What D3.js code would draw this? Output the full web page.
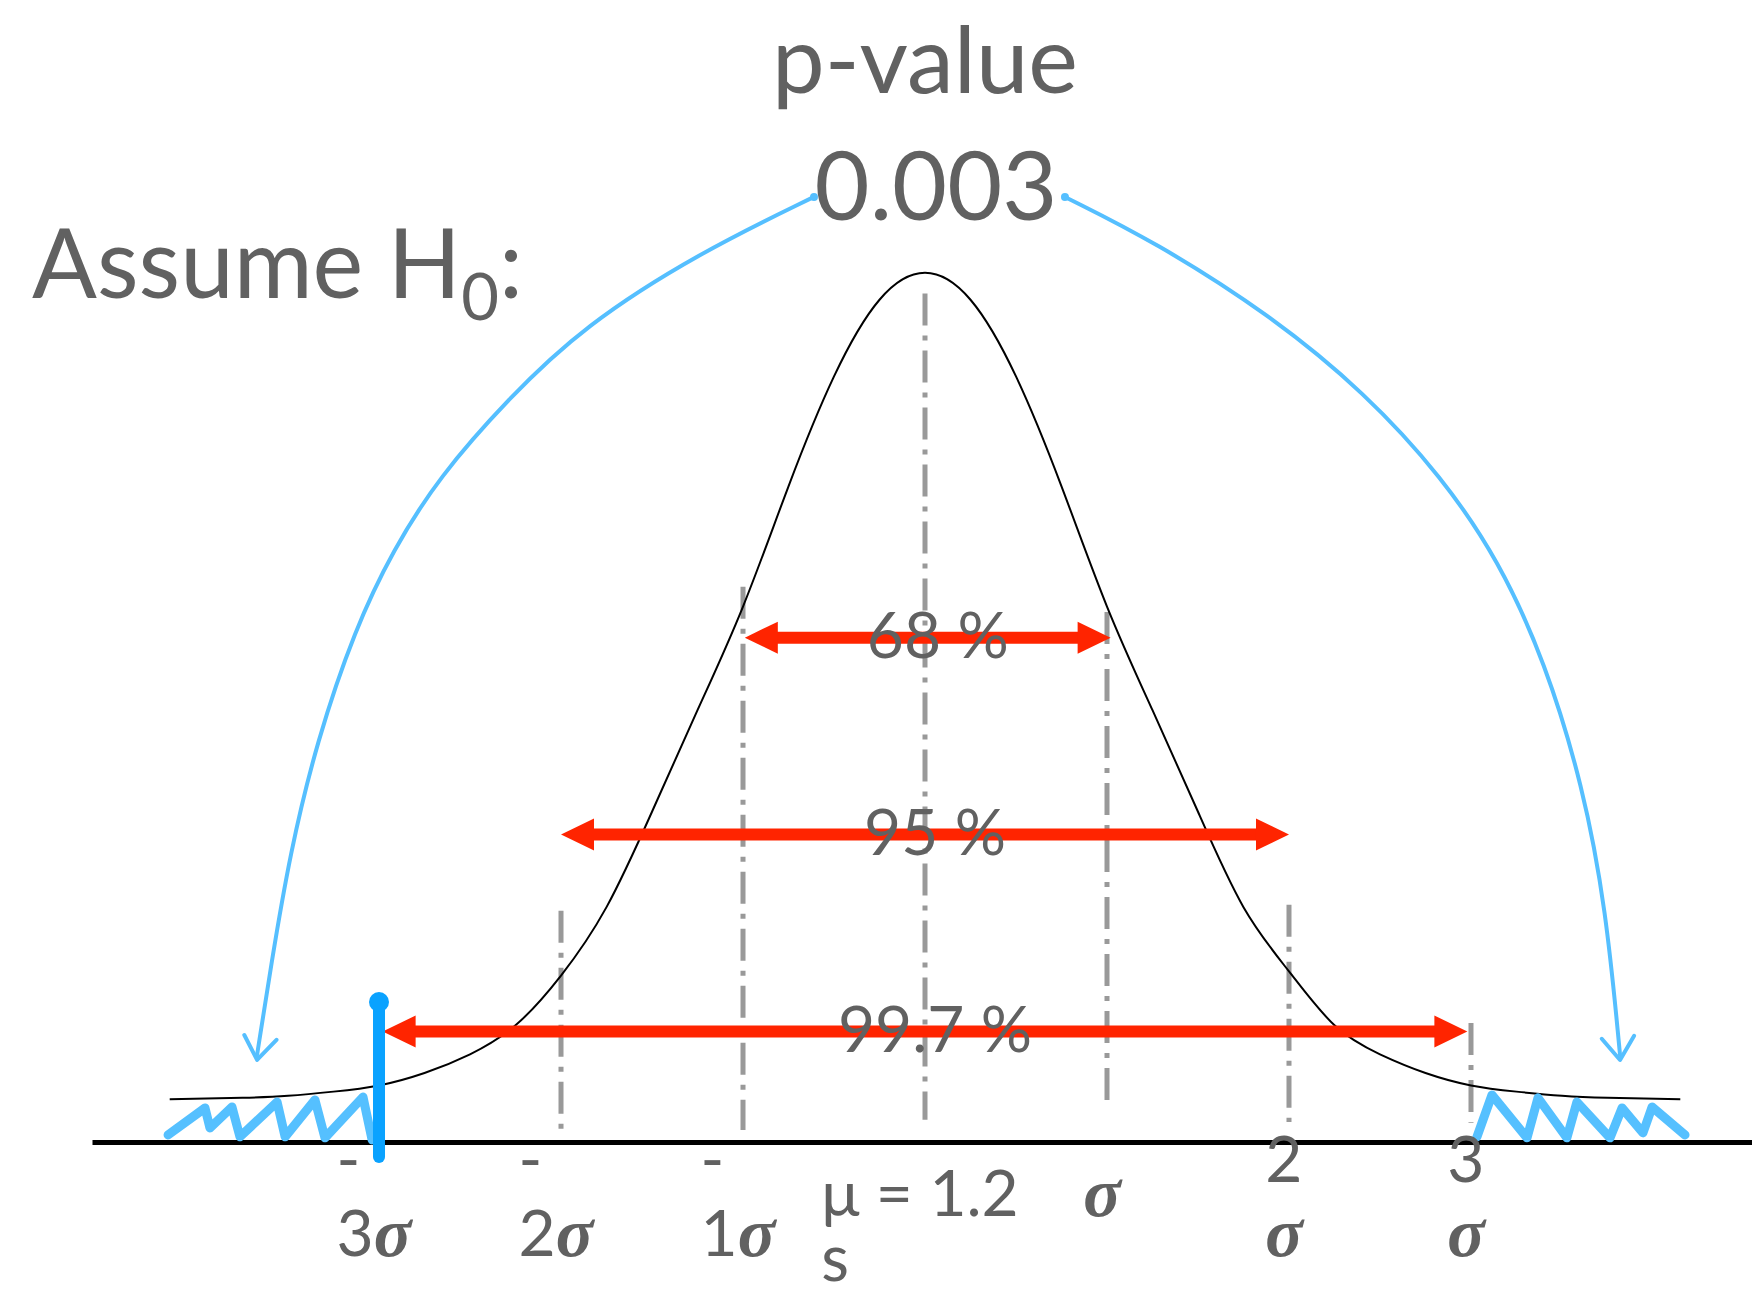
<!DOCTYPE html>
<html>
<head>
<meta charset="utf-8">
<script src="https://cdn.jsdelivr.net/npm/d3@7"></script>
<style>
  body { margin: 0; background: #fff; }
  text { font-family: Lato, "Noto Sans", sans-serif; font-weight: 400; fill: #616161; }
  .sig { font-family: "Liberation Serif", "DejaVu Serif", serif; font-weight: bold; font-style: italic; }
</style>
</head>
<body>
<svg id="chart" width="1752" height="1295"></svg>
<script>
// bell curve (z in sigma units, height as density)
var curveZ = [-4.15, -3.75, -3.5, -3.25, -3, -2.75, -2.5, -2.25, -2, -1.75, -1.5, -1.25, -1, -0.75, -0.5, -0.25, 0,
              0.25, 0.5, 0.75, 1, 1.25, 1.5, 1.75, 2, 2.25, 2.5, 2.75, 3, 3.25, 3.5, 3.75, 4.15];
var curveV = [0.0003, 0.001, 0.002, 0.004, 0.007, 0.013, 0.022, 0.036, 0.060, 0.093, 0.139, 0.188, 0.238, 0.296, 0.349, 0.386, 0.399,
              0.386, 0.349, 0.296, 0.238, 0.188, 0.139, 0.093, 0.062, 0.036, 0.022, 0.013, 0.007, 0.004, 0.002, 0.001, 0.0003];

// dash-dot guide lines
var guideZ = [-2, -1, 0, 1, 2, 3];
var guideTop = [0.0912, 0.2475, 0.389, 0.2354, 0.0941, 0.0371];
var guideBottom = [-0.0145, -0.0145, -0.0096, -0.001, -0.0106, -0.011];

// red range arrows
var rangeFrom = [-0.99, -2, -2.98];
var rangeTo = [1.02, 2, 2.98];
var rangeLevel = [0.223, 0.128, 0.033];
var rangeLabels = ["68 %", "95 %", "99.7 %"];

// tick labels below the axis
var tickZ = [-3, -2, -1, 0, 1, 2, 3];
var tickLines = [["-", "3σ"], ["-", "2σ"], ["-", "1σ"], ["μ = 1.2", "s"], ["σ"], ["2", "σ"], ["3", "σ"]];

// hand drawn blue marks
var leftArcZ = [-0.610, -1.242, -1.874, -2.291, -2.670, -2.923, -3.132, -3.341, -3.489, -3.593, -3.670];
var leftArcV = [0.4356, 0.4086, 0.3734, 0.3382, 0.3005, 0.2653, 0.2272, 0.1732, 0.1192, 0.0651, 0.0217];
var rightArcZ = [0.769, 1.264, 1.896, 2.418, 2.841, 3.154, 3.407, 3.615, 3.742, 3.819];
var rightArcV = [0.4356, 0.4139, 0.3787, 0.3411, 0.3005, 0.2600, 0.2113, 0.1515, 0.0921, 0.0217];
var leftZigZ = [-4.159, -3.956, -3.929, -3.808, -3.764, -3.560, -3.516, -3.352, -3.297, -3.088, -3.038];
var leftZigV = [-0.0169, -0.0039, -0.0135, -0.0034, -0.0178, -0.0010, -0.0178, 0, -0.0183, 0.0014, -0.0193];
var rightZigZ = [3.033, 3.115, 3.308, 3.368, 3.527, 3.582, 3.764, 3.830, 3.945, 3.995, 4.176];
var rightZigV = [-0.0178, 0.0024, -0.0183, 0.0010, -0.0183, -0.0010, -0.0183, -0.0039, -0.0159, -0.0034, -0.0169];
var cutZ = -3;
var cutTop = 0.0482, cutBottom = -0.0275;

var svg = d3.select("#chart");

var x = d3.scaleLinear().domain([-4.577, 4.544]).range([92, 1752]);
var y = d3.scaleLinear().domain([-0.0203, 0.3989]).range([1142, 273]);

function zip(zs, vs) {
  return zs.map(function (z, i) { return [z, vs[i]]; });
}

// axis (no ticks, just the thick base line)
var axis = svg.append("g")
  .attr("transform", "translate(0," + y(-0.0203) + ")")
  .call(d3.axisBottom(x).tickValues([]).tickSizeOuter(0));
axis.select(".domain").attr("stroke", "#000").attr("stroke-width", 5);

// guides
svg.append("g").selectAll("line")
  .data(guideZ)
  .enter().append("line")
  .attr("x1", function (d) { return x(d); })
  .attr("x2", function (d) { return x(d); })
  .attr("y1", function (d, i) { return y(guideTop[i]); })
  .attr("y2", function (d, i) { return y(guideBottom[i]); })
  .attr("stroke", "#999")
  .attr("stroke-width", 5)
  .attr("stroke-dasharray", "32,10,5,10");

// bell curve
var smooth = d3.line()
  .x(function (d) { return x(d[0]); })
  .y(function (d) { return y(d[1]); })
  .curve(d3.curveNatural);
svg.append("path")
  .datum(zip(curveZ, curveV))
  .attr("d", smooth)
  .attr("fill", "none")
  .attr("stroke", "#000")
  .attr("stroke-width", 2);

// zig zags in the tails
var zig = d3.line()
  .x(function (d) { return x(d[0]); })
  .y(function (d) { return y(d[1]); });
[zip(leftZigZ, leftZigV), zip(rightZigZ, rightZigV)].forEach(function (pts) {
  svg.append("path")
    .datum(pts)
    .attr("d", zig)
    .attr("fill", "none")
    .attr("stroke", "#55c0ff")
    .attr("stroke-width", 9)
    .attr("stroke-linejoin", "round")
    .attr("stroke-linecap", "round");
});

// arcs from the p-value to the tails (traced by hand, so smooth them out)
var sketch = d3.line()
  .x(function (d) { return x(d[0]); })
  .y(function (d) { return y(d[1]); })
  .curve(d3.curveBasis);
[zip(leftArcZ, leftArcV), zip(rightArcZ, rightArcV)].forEach(function (pts) {
  svg.append("path")
    .datum(pts)
    .attr("d", sketch)
    .attr("fill", "none")
    .attr("stroke", "#55bfff")
    .attr("stroke-width", 4)
    .attr("stroke-linecap", "round");
  // arrow head from the direction of the last stretch
  var a = pts[pts.length - 2], b = pts[pts.length - 1];
  var tx = x(b[0]), ty = y(b[1]) + 5;
  var ang = Math.atan2(ty - y(a[1]), tx - x(a[0]));
  var head = [-0.62, 0.62].map(function (off) {
    return [tx - 28 * Math.cos(ang + off), ty - 28 * Math.sin(ang + off)];
  });
  svg.append("path")
    .attr("d", "M" + head[0] + "L" + tx + "," + ty + "L" + head[1])
    .attr("fill", "none")
    .attr("stroke", "#55bfff")
    .attr("stroke-width", 4)
    .attr("stroke-linecap", "round")
    .attr("stroke-linejoin", "round");
  // blob where the pen started
  svg.append("circle")
    .attr("cx", x(pts[0][0])).attr("cy", y(pts[0][1]))
    .attr("r", 4).attr("fill", "#55bfff");
});

// red range arrows
var red = "#ff2400";
var ranges = svg.append("g");
rangeLevel.forEach(function (lv, i) {
  var x0 = x(rangeFrom[i]), x1 = x(rangeTo[i]), yy = y(lv);
  ranges.append("line")
    .attr("x1", x0 + 20).attr("x2", x1 - 20)
    .attr("y1", yy).attr("y2", yy)
    .attr("stroke", red).attr("stroke-width", 12);
  ranges.append("path")
    .attr("d", "M" + x0 + "," + yy + "L" + (x0 + 33) + "," + (yy - 16) + "L" + (x0 + 33) + "," + (yy + 16) + "Z")
    .attr("fill", red);
  ranges.append("path")
    .attr("d", "M" + x1 + "," + yy + "L" + (x1 - 33) + "," + (yy - 16) + "L" + (x1 - 33) + "," + (yy + 16) + "Z")
    .attr("fill", red);
  ranges.append("text")
    .attr("x", (x0 + x1) / 2 + 10)
    .attr("y", yy + 20)
    .attr("text-anchor", "middle")
    .attr("font-size", 64)
    .text(rangeLabels[i]);
});

// cut-off mark at -3 sigma
svg.append("line")
  .attr("x1", x(cutZ)).attr("x2", x(cutZ))
  .attr("y1", y(cutTop)).attr("y2", y(cutBottom))
  .attr("stroke", "#0aa2ff").attr("stroke-width", 12).attr("stroke-linecap", "round");
svg.append("circle")
  .attr("cx", x(cutZ)).attr("cy", y(cutTop) + 2).attr("r", 10).attr("fill", "#0aa2ff");

// tick labels: one wrapped text per tick, lines left aligned
function writeLine(t, str) {
  str.split(/(σ)/).forEach(function (part) {
    if (!part) return;
    var ts = t.append("tspan").text(part);
    if (part === "σ") ts.attr("class", "sig").attr("font-size", 70);
  });
}
var ticks = svg.append("g");
tickZ.forEach(function (z, i) {
  var first = (z === 0 || z === 1) ? 1216 : 1182;
  var gap = z === 0 ? 65 : 74;
  var t = ticks.append("text").attr("font-size", 64);
  var rows = tickLines[i].map(function (str, k) {
    var row = t.append("tspan").attr("y", first + k * gap);
    writeLine(row, str);
    return row;
  });
  var w = d3.max(rows, function (r) { return r.node().getComputedTextLength(); });
  rows.forEach(function (r) { r.attr("x", x(z) - w / 2 - 5); });
});

// titles
svg.append("text")
  .attr("x", x(0)).attr("y", 93)
  .attr("text-anchor", "middle")
  .attr("font-size", 94)
  .text("p-value");
svg.append("text")
  .attr("x", x(0) + 11).attr("y", 220)
  .attr("text-anchor", "middle")
  .attr("font-size", 95)
  .text("0.003");

var h0 = svg.append("text").attr("x", 32).attr("y", 298).attr("font-size", 96);
h0.append("tspan").text("Assume H");
h0.append("tspan").attr("font-size", 65).attr("dy", 22).text("0");
h0.append("tspan").attr("dy", -22).text(":");
</script>
</body>
</html>
